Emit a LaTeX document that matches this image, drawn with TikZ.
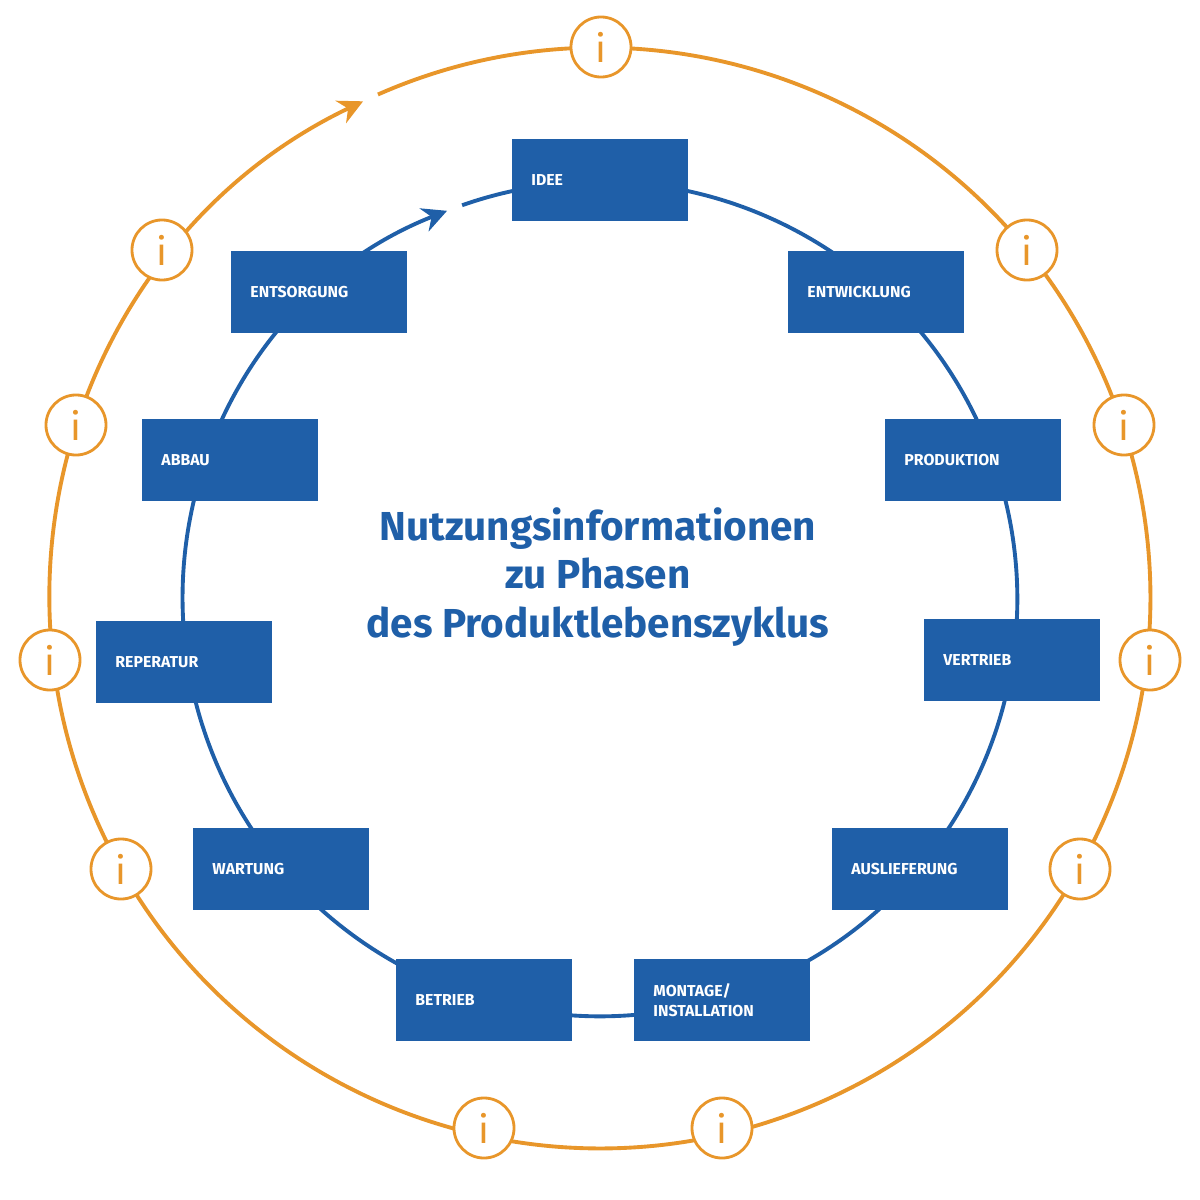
\documentclass[tikz,border=0pt]{standalone}
\usepackage{fontspec}
\setmainfont{Fira Sans}
\usepackage{tikz}
\usetikzlibrary{arrows.meta}
\definecolor{phaseblue}{RGB}{31,95,168}
\definecolor{infoorange}{RGB}{232,150,42}
\tikzset{
  phase/.style={fill=phaseblue, text=white, minimum width=1.75cm, minimum height=0.82cm,
    text width=1.37cm, align=left, inner sep=0pt, font={\fontsize{4.5pt}{5.5pt}\selectfont\bfseries}},
  info/.style={circle, draw=infoorange, fill=white, line width=0.8pt, minimum size=0.6cm,
    inner sep=0pt, text=infoorange, font={\fontsize{11pt}{12pt}\selectfont\mdseries}}}

\begin{document}
\begin{tikzpicture}[x=0.01cm,y=-0.01cm]
\useasboundingbox (0,0) rectangle (1200,1200);
% cycles
\draw [infoorange, line width=1.1pt, -{Stealth[length=7pt,width=7pt]}] (600,598) ++(113.8:5.5cm) arc (113.8:-244.5:5.5cm);
\draw [phaseblue, line width=1.1pt, -{Stealth[length=7pt,width=7pt]}] (600,599) ++(109.3:4.17cm) arc (109.3:-248.5:4.17cm);
% phases
\node [phase] (idee) at (600,180) {IDEE};
\node [phase] (entw) at (876,292) {ENTWICKLUNG};
\node [phase] (prod) at (973,460) {PRODUKTION};
\node [phase] (vert) at (1012,660) {VERTRIEB};
\node [phase] (ausl) at (920,869) {AUSLIEFERUNG};
\node [phase] (mont) at (722,1000) {MONTAGE/\\INSTALLATION};
\node [phase] (betr) at (484,1000) {BETRIEB};
\node [phase] (wart) at (281,869) {WARTUNG};
\node [phase] (repa) at (184,662) {REPERATUR};
\node [phase] (abba) at (230,460) {ABBAU};
\node [phase] (ents) at (319,292) {ENTSORGUNG};
% title
\node [text=phaseblue, align=center, font={\fontsize{11.5pt}{13.8pt}\selectfont\bfseries}] (title) at (598,577)
  {Nutzungsinformationen\\zu Phasen\\des Produktlebenszyklus};
% info markers
\foreach \px/\py [count=\k] in {601/47,1027/250,1124/425,1150/660,1080/869,722/1128,484/1128,121/869,50/660,76/425,162/250}
  \node [info] (i\k) at (\px,\py) {i};
\end{tikzpicture}
\end{document}
